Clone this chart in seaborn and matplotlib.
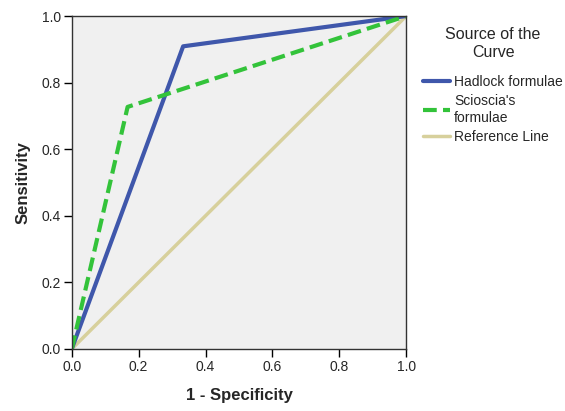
import numpy as np
import pandas as pd
import matplotlib
matplotlib.use('Agg')
import matplotlib.pyplot as plt
import seaborn as sns

# ROC points
fpr_hadlock = [0.0, 0.333, 1.0]
tpr_hadlock = [0.0, 0.909, 1.0]
fpr_scioscia = [0.0, 0.167, 1.0]
tpr_scioscia = [0.0, 0.727, 1.0]
fpr_ref = [0.0, 1.0]
tpr_ref = [0.0, 1.0]

labels = ['Hadlock formulae', "Scioscia's\nformulae", 'Reference Line']
colors = ['#3f57ab', '#33c33a', '#d7d09c']
ticks = [0.0, 0.2, 0.4, 0.6, 0.8, 1.0]

sns.set_style('ticks')
plt.rcParams['font.family'] = ['Liberation Sans', 'DejaVu Sans']

fig = plt.figure(figsize=(5.65, 4.11), dpi=100)
ax = fig.add_axes([0.127, 0.151, 0.592, 0.810])
ax.set_facecolor('#f0f0f0')

df = pd.concat([
    pd.DataFrame({'x': fpr_hadlock, 'y': tpr_hadlock, 'src': labels[0]}),
    pd.DataFrame({'x': fpr_scioscia, 'y': tpr_scioscia, 'src': labels[1]}),
    pd.DataFrame({'x': fpr_ref, 'y': tpr_ref, 'src': labels[2]}),
])

sns.lineplot(data=df[df.src == labels[2]], x='x', y='y', color=colors[2],
             lw=2.5, ax=ax, label=labels[2], sort=False)
sns.lineplot(data=df[df.src == labels[0]], x='x', y='y', color=colors[0],
             lw=3, ax=ax, label=labels[0], sort=False)
sns.lineplot(data=df[df.src == labels[1]], x='x', y='y', color=colors[1],
             lw=3, ax=ax, label=labels[1], sort=False, linestyle=(0, (3.3, 1.5)))

ax.set_xlim(0, 1)
ax.set_ylim(0, 1)
ax.set_xticks(ticks)
ax.set_yticks(ticks)
ax.set_xticklabels(['%.1f' % t for t in ticks], fontsize=10)
ax.set_yticklabels(['%.1f' % t for t in ticks], fontsize=10)
ax.tick_params(direction='out', length=6, width=1, color='black', pad=2)
for s in ax.spines.values():
    s.set_visible(True)
    s.set_color('#333333')
    s.set_linewidth(1)
ax.set_xlabel('1 - Specificity', fontsize=12, fontweight='bold', labelpad=10)
ax.set_ylabel('Sensitivity', fontsize=12, fontweight='bold', labelpad=8)

h, l = ax.get_legend_handles_labels()
order = [1, 2, 0]
leg = ax.legend([h[i] for i in order], [l[i] for i in order],
                title='Source of the\nCurve', loc='upper left',
                bbox_to_anchor=(1.035, 0.985), frameon=False, fontsize=10,
                title_fontsize=11.5, handlelength=1.9, handletextpad=0.3,
                labelspacing=0.4, borderaxespad=0)
leg._legend_box.align = 'center'
leg.get_title().set_multialignment('center')
leg.get_title().set_linespacing(1.25)
leg._legend_box.sep = 11

fig.savefig('out.png', dpi=100)
